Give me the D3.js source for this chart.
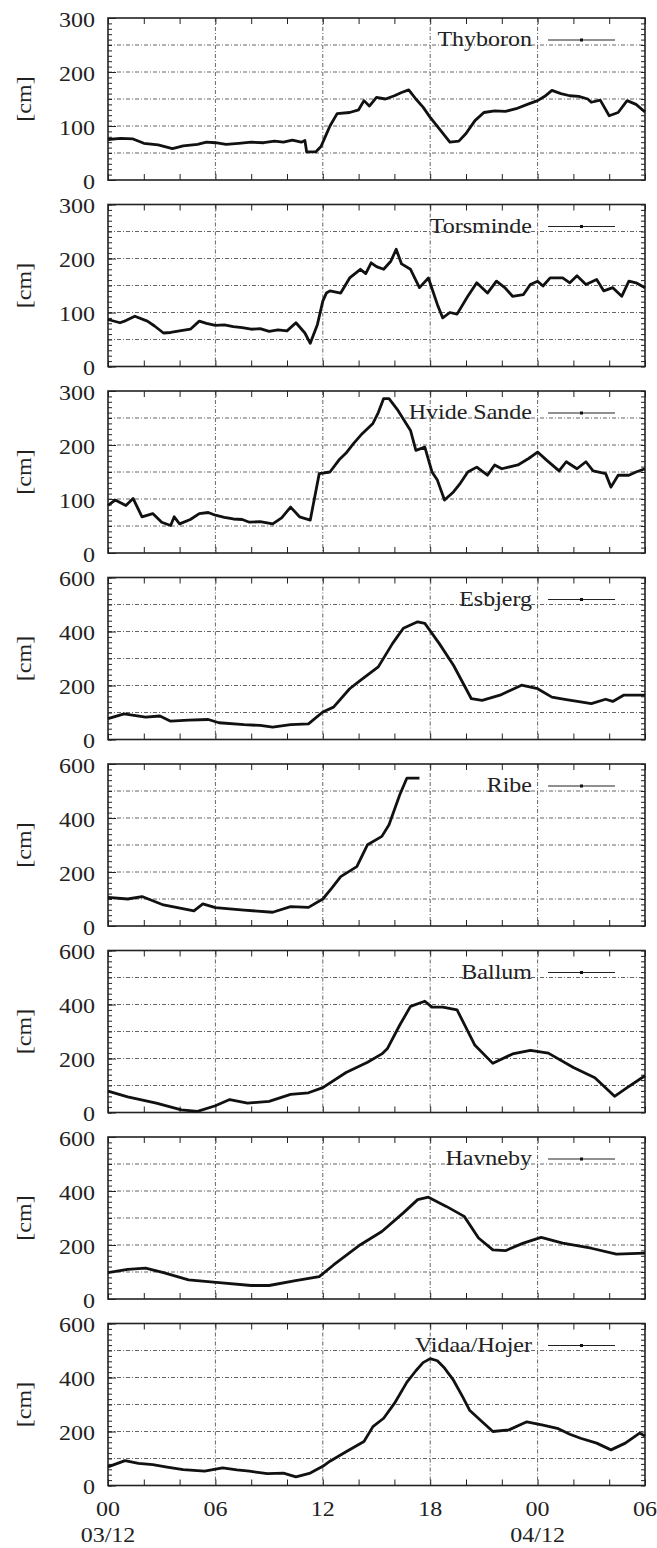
<!DOCTYPE html>
<html>
<head>
<meta charset="utf-8">
<script src="https://cdn.jsdelivr.net/npm/d3@7"></script>
<style>
body { margin: 0; background: #fff; }
svg { display: block; }
</style>
</head>
<body>
<div id="graph"></div>
<script>
// hours since 00 on 03/12
var hourTicks = [0, 6, 12, 18, 24, 30];
var hourLabels = ["00", "06", "12", "18", "00", "06"];
var dateTicks = [0, 24];
var dateLabels = ["03/12", "04/12"];

var stations = ["Thyboron", "Torsminde", "Hvide Sande", "Esbjerg", "Ribe", "Ballum", "Havneby", "Vidaa/Hojer"];
var yMax = [300, 300, 300, 600, 600, 600, 600, 600];

var thyboron = [[0,75],[0.7,77],[1.4,76],[2.0,68],[2.8,65],[3.6,58],[4.2,63],[5.0,66],[5.5,70],[6.0,69],[6.6,66],[7.3,68],[8.0,70],[8.7,69],[9.3,72],[9.8,70],[10.3,74],[10.8,70],[11.0,73],[11.1,52],[11.6,52],[11.9,62],[12.2,85],[12.4,100],[12.8,123],[13.5,125],[14.0,130],[14.3,147],[14.6,137],[15.0,153],[15.5,150],[16.0,156],[16.4,162],[16.8,167],[17.2,150],[17.6,135],[18.0,116],[18.5,95],[19.1,70],[19.6,72],[20.0,86],[20.5,110],[21.0,125],[21.6,128],[22.2,127],[22.8,132],[23.5,141],[24.0,147],[24.4,155],[24.8,166],[25.3,160],[25.8,156],[26.3,155],[26.8,150],[27.0,144],[27.5,148],[28.0,119],[28.5,125],[29.0,147],[29.5,140],[30.0,126]];
var torsminde = [[0,87],[0.67,81],[1.0,85],[1.5,93],[2.2,84],[2.6,75],[3.1,62],[3.5,63],[4.0,66],[4.6,69],[5.1,84],[5.5,80],[6.0,76],[6.5,77],[7.0,74],[7.5,72],[8.0,69],[8.5,70],[9.0,65],[9.5,68],[10.0,66],[10.5,81],[11.0,62],[11.3,43],[11.7,78],[12.0,121],[12.2,136],[12.4,140],[13.0,136],[13.5,164],[14.1,180],[14.4,172],[14.7,192],[15.0,185],[15.4,180],[15.8,195],[16.1,217],[16.4,190],[16.9,180],[17.4,146],[17.9,164],[18.4,115],[18.7,90],[19.1,100],[19.5,97],[20.1,130],[20.6,155],[21.2,136],[21.7,158],[22.2,145],[22.6,130],[23.2,133],[23.6,152],[24.0,158],[24.3,149],[24.7,164],[25.4,164],[25.8,155],[26.2,168],[26.7,152],[27.3,161],[27.7,140],[28.2,146],[28.7,130],[29.1,158],[29.5,155],[30,146]];
var hvideSande = [[0,88],[0.4,98],[1.0,88],[1.4,101],[1.9,67],[2.5,73],[3.0,57],[3.5,51],[3.7,67],[4.0,54],[4.6,62],[5.1,73],[5.6,75],[6.0,70],[6.5,66],[7.0,63],[7.5,62],[7.9,57],[8.5,58],[9.2,54],[9.7,65],[10.2,85],[10.7,67],[11.3,61],[11.8,147],[12.4,150],[12.9,172],[13.3,185],[13.7,202],[14.2,221],[14.8,240],[15.1,260],[15.4,286],[15.7,286],[16.2,264],[16.9,227],[17.2,190],[17.7,196],[18.1,150],[18.4,135],[18.8,98],[19.3,113],[19.7,130],[20.1,150],[20.6,159],[21.2,144],[21.6,163],[22.0,156],[22.5,160],[22.9,163],[23.5,175],[24.0,187],[24.5,172],[25.2,152],[25.6,169],[26.2,156],[26.7,169],[27.1,152],[27.8,147],[28.1,122],[28.5,144],[29.1,144],[29.5,150],[30,156]];
var esbjerg = [[0,77],[0.9,95],[2.1,83],[2.9,87],[3.5,68],[4.5,72],[5.6,74],[6.2,62],[7.6,55],[8.5,52],[9.2,46],[10.2,55],[11.2,58],[12.0,102],[12.6,120],[13.5,188],[14.1,219],[15.1,269],[15.9,356],[16.5,412],[17.3,436],[17.7,430],[18.5,356],[19.3,275],[20.3,151],[20.9,145],[21.9,164],[23.1,201],[24.0,188],[24.8,157],[25.6,148],[26.4,139],[27.0,133],[27.8,149],[28.2,141],[28.8,164],[30,164]];
var ribe = [[0,106],[1.1,100],[1.9,109],[3.1,78],[4.8,56],[5.3,82],[6.0,68],[7.6,59],[9.2,51],[10.2,72],[11.2,69],[12.0,100],[12.5,140],[13.0,183],[13.9,220],[14.5,301],[15.3,332],[15.7,375],[16.3,486],[16.7,548],[17.4,548]];
var ballum = [[0,79],[1.1,58],[2.7,35],[4.1,10],[5.0,4],[6.0,25],[6.8,48],[7.8,35],[9.0,41],[10.2,67],[11.2,73],[12.0,92],[13.3,148],[14.5,186],[15.3,217],[15.6,236],[16.3,324],[16.9,393],[17.7,412],[18.1,390],[18.7,390],[19.5,380],[20.5,249],[21.5,182],[22.6,217],[23.6,230],[24.6,220],[26.0,167],[27.2,129],[28.3,60],[29.0,92],[30,136]];
var havneby = [[0,98],[1.1,110],[2.1,114],[3.1,98],[4.5,71],[6.2,61],[8.0,50],[9.0,50],[10.4,67],[11.8,83],[12.6,126],[14.1,201],[15.3,250],[16.5,319],[17.3,368],[17.9,377],[18.9,343],[19.9,306],[20.7,226],[21.5,182],[22.2,179],[23.2,207],[24.2,228],[25.4,207],[27.0,188],[28.4,166],[30,170]];
var vidaa = [[0,69],[0.95,92],[1.7,82],[2.5,77],[3.3,68],[4.2,59],[5.4,53],[6.4,65],[7.2,58],[7.9,53],[8.9,44],[9.8,46],[10.5,32],[11.3,46],[12.0,71],[12.4,90],[13.3,125],[14.3,163],[14.8,218],[15.4,249],[16.0,304],[16.7,383],[17.2,425],[17.6,455],[18.0,470],[18.4,462],[18.8,435],[19.3,390],[19.8,330],[20.2,279],[20.9,236],[21.5,200],[22.4,206],[23.4,236],[24.3,224],[25.1,212],[25.8,190],[26.4,175],[27.3,157],[28.1,132],[28.9,157],[29.7,194],[30,183]];

var series = [thyboron, torsminde, hvideSande, esbjerg, ribe, ballum, havneby, vidaa];

// layout
var left = 108, right = 645;
var top0 = 18, step = 186.5, ph = 162;
var serif = "'Liberation Serif', 'DejaVu Serif', serif";

var svg = d3.select("#graph").append("svg")
    .attr("width", 657)
    .attr("height", 1548);

var x = d3.scaleLinear().domain([0, 30]).range([left, right]);

function stretched(g, px, py, txt, anchor) {
    return g.append("text")
        .attr("transform", "translate(" + px + "," + py + ") scale(1.2,1)")
        .attr("text-anchor", anchor)
        .attr("font-family", serif)
        .attr("font-size", 20)
        .attr("fill", "#222")
        .text(txt);
}

var line = d3.line()
    .x(function(d) { return x(d[0]); });

for (let i = 0; i < series.length; i++) {
    var t = top0 + i * step;
    var y = d3.scaleLinear().domain([0, yMax[i]]).range([t + ph, t]);
    var major = yMax[i] / 3;
    var g = svg.append("g");

    // grid (dash-dot)
    var gridY = d3.range(major / 2, yMax[i], major / 2);
    g.selectAll(".gy").data(gridY).enter().append("line")
        .attr("x1", left).attr("x2", right)
        .attr("y1", function(d) { return y(d); }).attr("y2", function(d) { return y(d); })
        .attr("stroke", "#666").attr("stroke-width", 1)
        .attr("stroke-dasharray", "4,2,1,2");
    g.selectAll(".gx").data([6, 12, 18, 24]).enter().append("line")
        .attr("x1", function(d) { return x(d); }).attr("x2", function(d) { return x(d); })
        .attr("y1", t).attr("y2", t + ph)
        .attr("stroke", "#666").attr("stroke-width", 1)
        .attr("stroke-dasharray", "4,2,1,2");

    // inward ticks
    var minorY = d3.range(0, yMax[i] + 0.1, yMax[i] / 30);
    g.append("g").attr("transform", "translate(" + left + ",0)")
        .call(d3.axisLeft(y).tickValues(minorY).tickSize(-4).tickFormat(""));
    g.append("g").attr("transform", "translate(" + right + ",0)")
        .call(d3.axisRight(y).tickValues(minorY).tickSize(-4).tickFormat(""));
    g.append("g").attr("transform", "translate(" + left + ",0)")
        .call(d3.axisLeft(y).tickValues(d3.range(0, yMax[i] + 1, major)).tickSize(-8).tickFormat(""));
    g.append("g").attr("transform", "translate(0," + (t + ph) + ")")
        .call(d3.axisBottom(x).tickValues(d3.range(0, 31, 2)).tickSize(-6).tickFormat(""));
    g.append("g").attr("transform", "translate(0," + t + ")")
        .call(d3.axisTop(x).tickValues(d3.range(0, 31, 2)).tickSize(-6).tickFormat(""));
    g.selectAll(".domain").remove();
    g.selectAll(".tick line").attr("stroke", "#222");

    // frame
    g.append("rect")
        .attr("x", left).attr("y", t)
        .attr("width", right - left).attr("height", ph)
        .attr("fill", "none").attr("stroke", "#222").attr("stroke-width", 1.6);

    // y tick labels
    d3.range(0, yMax[i] + 1, major).forEach(function(v) {
        stretched(g, 95, y(v) + 8.5, String(v), "end");
    });

    // y axis title
    g.append("text")
        .attr("transform", "translate(31," + (t + ph / 2) + ") rotate(-90) scale(1.2,1)")
        .attr("text-anchor", "middle")
        .attr("font-family", serif)
        .attr("font-size", 20)
        .attr("fill", "#222")
        .text("[cm]");

    // data
    line.y(function(d) { return y(d[1]); });
    g.append("path")
        .attr("d", line(series[i]))
        .attr("fill", "none")
        .attr("stroke", "#111")
        .attr("stroke-width", 2.8)
        .attr("stroke-linejoin", "round");

    // legend
    stretched(g, 532, t + 28, stations[i], "end");
    g.append("line")
        .attr("x1", 548).attr("x2", 615)
        .attr("y1", t + 22).attr("y2", t + 22)
        .attr("stroke", "#222").attr("stroke-width", 1.2);
    g.append("rect")
        .attr("x", 580).attr("y", t + 20.5)
        .attr("width", 3).attr("height", 3)
        .attr("fill", "#111");
}

// x axis labels under last panel
var bottom = top0 + 7 * step + ph;
hourTicks.forEach(function(h, k) {
    stretched(svg, x(h), bottom + 30, hourLabels[k], "middle");
});
dateTicks.forEach(function(h, k) {
    stretched(svg, x(h), bottom + 56, dateLabels[k], "middle");
});
</script>
</body>
</html>
